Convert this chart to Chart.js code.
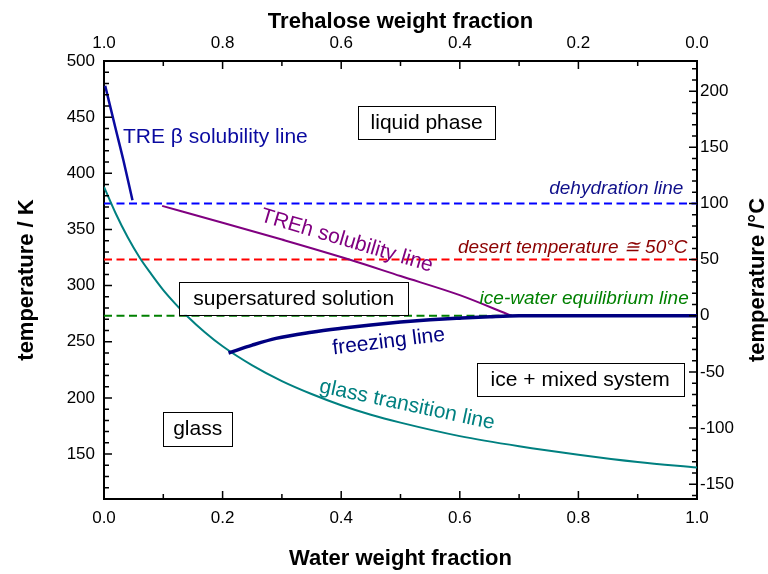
<!DOCTYPE html>
<html>
<head>
<meta charset="utf-8">
<title>Trehalose–water state diagram</title>
<script src="https://cdn.jsdelivr.net/npm/chart.js@4.4.1/dist/chart.umd.min.js"></script>
<style>
  html, body { margin: 0; padding: 0; background: #fff; }
  #wrap { position: relative; width: 768px; height: 574px; }
</style>
</head>
<body>
<div id="wrap"><canvas id="phaseChart"></canvas></div>
<script>
// water weight fraction -> temperature in K
const glassW   = [0, 0.02, 0.04, 0.06, 0.08, 0.10, 0.12, 0.14, 0.17, 0.20, 0.25, 0.30, 0.35, 0.40, 0.45, 0.50, 0.60, 0.70, 0.80, 0.90, 1.00];
const glassT   = [388, 364, 343, 325, 310, 296, 284, 273, 258.5, 246, 229, 215, 203.5, 193.5, 185, 178, 166, 157, 149.5, 143, 138];
const treBetaW = [0.002, 0.019, 0.033, 0.048];
const treBetaT = [478, 441, 411, 376];
const trehW    = [0.098, 0.20, 0.30, 0.415, 0.50, 0.60, 0.687];
const trehT    = [371, 356, 341, 323, 308.5, 291.5, 273.15];
const freezeW  = [0.21, 0.25, 0.29, 0.35, 0.40, 0.45, 0.50, 0.55, 0.60, 0.65, 0.70, 1.00];
const freezeT  = [240, 247, 253, 258.5, 262, 265, 267.5, 269.5, 271, 272.3, 273.15, 273.15];
const dehydrationK = 373.15;
const desertK = 323.15;
const iceWaterK = 273.15;

const fractionTicks = [0, 0.2, 0.4, 0.6, 0.8, 1.0];
const kelvinTicks = [150, 200, 250, 300, 350, 400, 450, 500];
const celsiusTicks = [-150, -100, -50, 0, 50, 100, 150, 200];
const kMin = 110, kMax = 500;

const FONT = "'Liberation Sans', Arial, Helvetica, sans-serif";

const pts = (xs, ys) => xs.map((x, i) => ({ x, y: ys[i] }));
const hline = k => [{ x: 0, y: k }, { x: 1, y: k }];

// boxed region names and curve labels, placed in data coordinates
const boxes = [
  { text: 'liquid phase',          w: 0.544, t: 445.2, bw: 137, bh: 33 },
  { text: 'supersatured solution', w: 0.320, t: 288.7, bw: 229, bh: 33 },
  { text: 'ice + mixed system',    w: 0.803, t: 216.6, bw: 207, bh: 33 },
  { text: 'glass',                 w: 0.158, t: 172.6, bw: 69,  bh: 34 }
];
const notes = [
  { text: 'TRE \u03b2 solubility line', w: 0.032, t: 432.3, align: 'left',   color: '#0a0aa0', italic: false, rot: 0 },
  { text: 'dehydration line',           w: 0.977, t: 386.0, align: 'right',  color: '#10108a', italic: true,  rot: 0 },
  { text: 'desert temperature \u2245 50\u00b0C', w: 0.984, t: 334.0, align: 'right', color: '#8b0000', italic: true, rot: 0 },
  { text: 'ice-water equilibrium line', w: 0.986, t: 288.1, align: 'right',  color: '#008000', italic: true,  rot: 0 },
  { text: 'TREh solubility line',       w: 0.4095, t: 339.9, align: 'center', color: '#800080', italic: false, rot: 16.5 },
  { text: 'freezing line',              w: 0.4800, t: 250.0, align: 'center', color: '#000080', italic: false, rot: -7 },
  { text: 'glass transition line',      w: 0.511, t: 193.7, align: 'center', color: '#008080', italic: false, rot: 12 }
];

const decor = {
  id: 'decor',
  afterDatasetsDraw(chart) {
    const { ctx, chartArea: a, scales } = chart;
    const px = w => scales.x.getPixelForValue(w);
    const py = t => scales.y.getPixelForValue(t);
    ctx.save();

    // inward tick marks on all four sides
    ctx.strokeStyle = '#000';
    ctx.lineWidth = 1.5;
    ctx.beginPath();
    for (let i = 0; i <= 10; i++) {
      const v = i / 10, len = i % 2 ? 5 : 8;
      const xb = scales.x.getPixelForValue(v);
      ctx.moveTo(xb, a.bottom); ctx.lineTo(xb, a.bottom - len);
      const xt = scales.xTop.getPixelForValue(v);
      ctx.moveTo(xt, a.top); ctx.lineTo(xt, a.top + len);
    }
    for (let k = kMin; k <= kMax; k += 10) {
      const y = scales.y.getPixelForValue(k), len = k % 50 ? 5 : 8;
      ctx.moveTo(a.left, y); ctx.lineTo(a.left + len, y);
    }
    for (let c = -160; c <= 220; c += 10) {
      const y = scales.yC.getPixelForValue(c), len = c % 50 ? 5 : 8;
      ctx.moveTo(a.right, y); ctx.lineTo(a.right - len, y);
    }
    ctx.stroke();

    // region boxes
    ctx.font = `21px ${FONT}`;
    ctx.textAlign = 'center';
    ctx.textBaseline = 'middle';
    boxes.forEach(b => {
      const cx = px(b.w), cy = py(b.t);
      ctx.fillStyle = '#fff';
      ctx.fillRect(cx - b.bw / 2, cy - b.bh / 2, b.bw, b.bh);
      ctx.strokeStyle = '#000';
      ctx.lineWidth = 1;
      ctx.strokeRect(Math.round(cx - b.bw / 2) + 0.5, Math.round(cy - b.bh / 2) + 0.5, b.bw, b.bh);
      ctx.fillStyle = '#000';
      ctx.fillText(b.text, cx, cy + 1);
    });

    // curve labels
    notes.forEach(n => {
      ctx.save();
      ctx.translate(px(n.w), py(n.t));
      ctx.rotate(n.rot * Math.PI / 180);
      ctx.font = n.italic ? `italic 19px ${FONT}` : `21px ${FONT}`;
      ctx.textAlign = n.align;
      ctx.textBaseline = 'middle';
      ctx.fillStyle = n.color;
      ctx.fillText(n.text, 0, 0);
      ctx.restore();
    });

    // right axis title reads bottom to top
    ctx.save();
    ctx.translate(764, (a.top + a.bottom) / 2);
    ctx.rotate(-Math.PI / 2);
    ctx.font = `bold 22px ${FONT}`;
    ctx.textAlign = 'center';
    ctx.textBaseline = 'alphabetic';
    ctx.fillStyle = '#000';
    ctx.fillText('temperature /\u00b0C', 0, 0);
    ctx.restore();

    ctx.restore();
  }
};

const tickFont = { family: FONT, size: 17 };
const titleFont = { family: FONT, size: 22, weight: 'bold' };
const frame = { display: true, color: '#000', width: 2 };
const noGrid = { display: false, drawTicks: false };
const setTicks = arr => scale => { scale.ticks = arr.map(v => ({ value: v })); };

const ctx = document.getElementById('phaseChart').getContext('2d');
new Chart(ctx, {
  type: 'line',
  data: {
    datasets: [
      { data: pts(freezeW, freezeT), borderColor: '#000080', borderWidth: 3.5, cubicInterpolationMode: 'monotone' },
      { data: pts(glassW, glassT), borderColor: '#008080', borderWidth: 2, cubicInterpolationMode: 'monotone' },
      { data: pts(treBetaW, treBetaT), borderColor: '#0a0aa0', borderWidth: 2.5, cubicInterpolationMode: 'monotone' },
      { data: pts(trehW, trehT), borderColor: '#800080', borderWidth: 2, cubicInterpolationMode: 'monotone' },
      { data: hline(dehydrationK), borderColor: '#0000ff', borderWidth: 2, borderDash: [8, 4.5] },
      { data: hline(desertK), borderColor: '#ff0000', borderWidth: 2, borderDash: [8, 4.5] },
      { data: hline(iceWaterK), borderColor: '#008000', borderWidth: 2, borderDash: [8, 4.5] }
    ]
  },
  options: {
    responsive: true,
    maintainAspectRatio: false,
    animation: false,
    layout: { padding: 0 },
    elements: { point: { radius: 0 }, line: { fill: false } },
    plugins: { legend: { display: false }, tooltip: { enabled: false } },
    scales: {
      x: {
        type: 'linear', position: 'bottom', min: 0, max: 1,
        afterFit: s => { s.height = 75; },
        afterBuildTicks: setTicks(fractionTicks),
        grid: noGrid, border: frame,
        ticks: { padding: 9, color: '#000', font: tickFont, maxRotation: 0, callback: v => v.toFixed(1) },
        title: { display: true, text: 'Water weight fraction', color: '#000', font: titleFont, padding: { top: 0, bottom: 2 } }
      },
      xTop: {
        type: 'linear', position: 'top', min: 0, max: 1, reverse: true,
        afterFit: s => { s.height = 61; },
        afterBuildTicks: setTicks(fractionTicks),
        grid: noGrid, border: frame,
        ticks: { padding: 7, color: '#000', font: tickFont, maxRotation: 0, callback: v => v.toFixed(1) },
        title: { display: true, text: 'Trehalose weight fraction', color: '#000', font: titleFont, padding: { top: 9, bottom: 0 } }
      },
      y: {
        type: 'linear', position: 'left', min: kMin, max: kMax,
        afterFit: s => { s.width = 104; },
        afterBuildTicks: setTicks(kelvinTicks),
        grid: noGrid, border: frame,
        ticks: { padding: 9, color: '#000', font: tickFont },
        title: { display: true, text: 'temperature / K', color: '#000', font: titleFont, padding: { top: 14, bottom: 0 } }
      },
      yC: {
        type: 'linear', position: 'right', min: kMin - 273.15, max: kMax - 273.15,
        afterFit: s => { s.width = 71; },
        afterBuildTicks: setTicks(celsiusTicks),
        grid: noGrid, border: frame,
        ticks: { padding: 3, color: '#000', font: tickFont }
      }
    }
  },
  plugins: [decor]
});
</script>
</body>
</html>
